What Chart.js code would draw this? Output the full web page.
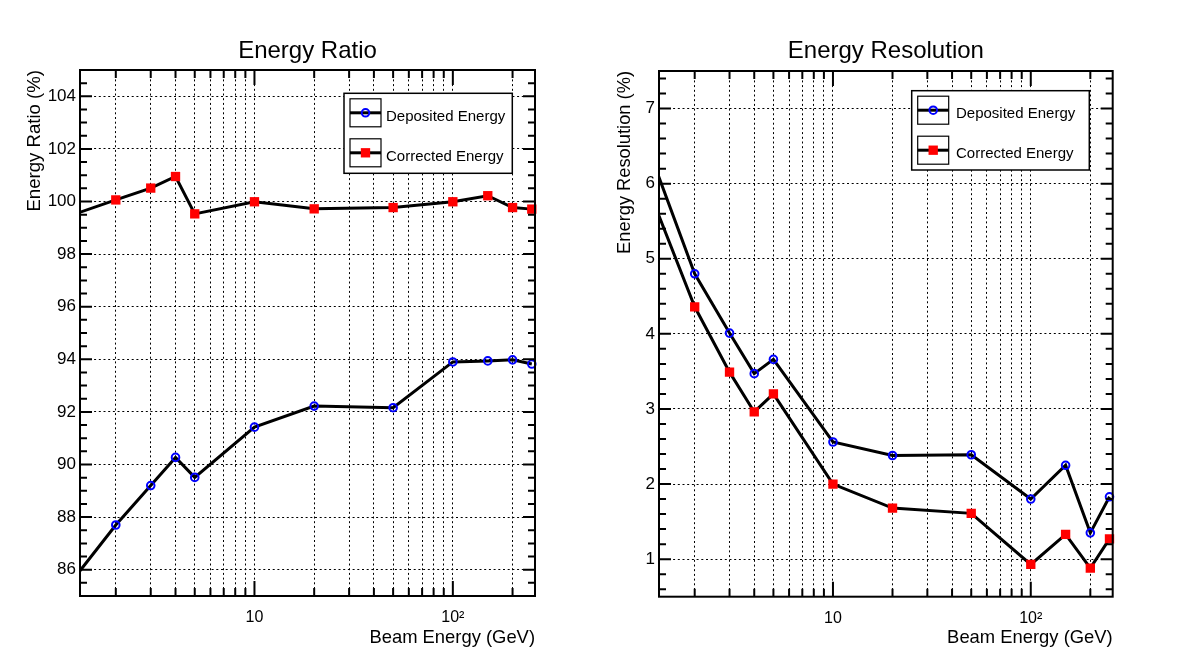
<!DOCTYPE html>
<html>
<head>
<meta charset="utf-8">
<script src="https://cdn.jsdelivr.net/npm/chart.js@4.4.1/dist/chart.umd.min.js"></script>
<style>
  html, body { margin: 0; padding: 0; background: #fff; }
  #wrap { display: flex; width: 1182px; height: 669px; }
  canvas { display: block; }
</style>
</head>
<body>
<div id="wrap">
  <canvas id="ratio" width="591" height="669"></canvas>
  <canvas id="resolution" width="591" height="669"></canvas>
</div>
<script>
// beam energies in GeV -- the 1 GeV point lies left of the shown range, only its line shows
const beamEnergy = [1, 2, 3, 4, 5, 10, 20, 50, 100, 150, 200, 250];

const ratioDeposited = [84.8, 87.7, 89.2, 90.27, 89.51, 91.42, 92.22, 92.16, 93.9, 93.94, 93.98, 93.82];
const ratioCorrected = [99.28, 100.06, 100.51, 100.95, 99.53, 99.99, 99.72, 99.77, 99.99, 100.22, 99.77, 99.71];

const resDeposited = [6.94, 4.8, 4.01, 3.47, 3.66, 2.56, 2.38, 2.39, 1.8, 2.25, 1.35, 1.83];
const resCorrected = [6.38, 4.36, 3.49, 2.96, 3.2, 2.0, 1.68, 1.61, 0.93, 1.33, 0.88, 1.27];

const xTicks = [2, 3, 4, 5, 6, 7, 8, 9, 10, 20, 30, 40, 50, 60, 70, 80, 90, 100, 200];
const xTickLabels = { 10: '10', 100: '10\u00B2' };
const ratioTicks = [86, 88, 90, 92, 94, 96, 98, 100, 102, 104];
const resTicks = [1, 2, 3, 4, 5, 6, 7];

const FONT = "'Liberation Sans', Arial, Helvetica, sans-serif";

// ROOT-like frame: box, inward ticks on all four sides, and the boxed legend
const rootFrame = {
  id: 'rootFrame',
  afterDatasetsDraw(chart, args, opts) {
    const { ctx, chartArea: a, scales: { x, y } } = chart;
    ctx.save();
    ctx.strokeStyle = '#000';
    ctx.lineWidth = 2;
    ctx.beginPath();
    xTicks.forEach(v => {
      const px = x.getPixelForValue(v);
      const len = xTickLabels[v] ? 15 : 8;
      ctx.moveTo(px, a.bottom); ctx.lineTo(px, a.bottom - len);
      ctx.moveTo(px, a.top); ctx.lineTo(px, a.top + len);
    });
    const k0 = Math.ceil(y.min / opts.minorStep - 1e-9);
    const k1 = Math.floor(y.max / opts.minorStep + 1e-9);
    for (let k = k0; k <= k1; k++) {
      const v = k * opts.minorStep;
      const r = v / opts.majorStep;
      const len = Math.abs(r - Math.round(r)) < 1e-6 ? 12 : 7;
      const py = y.getPixelForValue(v);
      ctx.moveTo(a.left, py); ctx.lineTo(a.left + len, py);
      ctx.moveTo(a.right, py); ctx.lineTo(a.right - len, py);
    }
    ctx.stroke();
    ctx.strokeRect(a.left, a.top, a.right - a.left, a.bottom - a.top);

    // legend
    const lg = opts.legend;
    const bx = a.right - lg.right - lg.width;
    const by = a.top + lg.top;
    ctx.fillStyle = '#fff';
    ctx.fillRect(bx, by, lg.width, lg.height);
    ctx.lineWidth = 1.5;
    ctx.strokeRect(bx, by, lg.width, lg.height);
    chart.data.datasets.forEach((ds, i) => {
      const sx = bx + 6, sy = by + 5.5 + i * 40, sw = 31, sh = 28;
      ctx.lineWidth = 1.2;
      ctx.strokeStyle = '#000';
      ctx.strokeRect(sx, sy, sw, sh);
      ctx.lineWidth = 3;
      ctx.beginPath();
      ctx.moveTo(sx, sy + sh / 2); ctx.lineTo(sx + sw, sy + sh / 2);
      ctx.stroke();
      ctx.fillStyle = ds.pointBackgroundColor;
      ctx.strokeStyle = ds.pointBorderColor;
      ctx.lineWidth = ds.pointBorderWidth;
      Chart.helpers.drawPoint(ctx, {
        pointStyle: ds.pointStyle, radius: ds.pointRadius,
        borderWidth: ds.pointBorderWidth, rotation: 0
      }, sx + sw / 2, sy + sh / 2);
      ctx.fillStyle = '#000';
      ctx.font = '15px ' + FONT;
      ctx.textBaseline = 'middle';
      ctx.textAlign = 'left';
      ctx.fillText(ds.label, bx + lg.textX, sy + sh / 2 + 4);
    });
    ctx.restore();
  }
};

function seriesDeposited(values) {
  return {
    label: 'Deposited Energy',
    data: beamEnergy.map((e, i) => ({ x: e, y: values[i] })),
    borderColor: '#000',
    borderWidth: 3,
    pointStyle: 'circle',
    pointRadius: 3.8,
    pointBorderWidth: 2,
    pointBorderColor: '#0000ff',
    pointBackgroundColor: 'rgba(0,0,0,0)',
    clip: { left: 0, right: 10, top: 10, bottom: 10 }
  };
}

function seriesCorrected(values) {
  return {
    label: 'Corrected Energy',
    data: beamEnergy.map((e, i) => ({ x: e, y: values[i] })),
    borderColor: '#000',
    borderWidth: 3,
    pointStyle: 'rect',
    pointRadius: 6.6,
    pointBorderWidth: 0,
    pointBorderColor: '#ff0000',
    pointBackgroundColor: '#ff0000',
    clip: { left: 0, right: 10, top: 10, bottom: 10 }
  };
}

function makeChart(id, cfg) {
  return new Chart(document.getElementById(id), {
    type: 'line',
    data: { datasets: [seriesDeposited(cfg.deposited), seriesCorrected(cfg.corrected)] },
    options: {
      responsive: false,
      animation: false,
      events: [],
      layout: { padding: { left: 0, right: cfg.padRight, top: 0, bottom: 0 } },
      plugins: {
        legend: { display: false },
        tooltip: { enabled: false },
        title: {
          display: true,
          text: cfg.title,
          fullSize: false,
          color: '#000',
          font: { family: FONT, size: 24, weight: 'normal' },
          padding: { top: 37.2, bottom: cfg.plotTop - 28.8 - 37.2 }
        },
        rootFrame: { minorStep: cfg.minorStep, majorStep: cfg.majorStep, legend: cfg.legend }
      },
      scales: {
        x: {
          type: 'logarithmic',
          min: 1.32,
          max: 259.5,
          afterBuildTicks: s => { s.ticks = xTicks.map(v => ({ value: v })); },
          afterFit: s => { s.height = cfg.xHeight; },
          grid: { color: '#000', lineWidth: 1, drawTicks: false },
          border: { display: false, dash: [2, 2.7] },
          ticks: {
            autoSkip: false, maxRotation: 0, padding: 12, color: '#000',
            font: { family: FONT, size: 16 },
            callback: v => xTickLabels[v] || ''
          },
          title: {
            display: true, text: 'Beam Energy (GeV)', align: 'end', color: '#000',
            font: { family: FONT, size: 18.4 },
            padding: { top: 0, bottom: 20 }
          }
        },
        y: {
          type: 'linear',
          min: cfg.yMin,
          max: cfg.yMax,
          afterBuildTicks: s => { s.ticks = cfg.yTicks.map(v => ({ value: v })); },
          afterFit: s => { s.width = cfg.yWidth; },
          grid: { color: '#000', lineWidth: 1, drawTicks: false },
          border: { display: false, dash: [2, 2.7] },
          ticks: { padding: 4, color: '#000', font: { family: FONT, size: 17 } },
          title: {
            display: true, text: cfg.yTitle, align: 'end', color: '#000',
            font: { family: FONT, size: cfg.yTitleSize },
            padding: { top: cfg.yTitlePad, bottom: 0 }
          }
        }
      }
    },
    plugins: [rootFrame]
  });
}

makeChart('ratio', {
  title: 'Energy Ratio',
  yTitle: 'Energy Ratio (%)',
  deposited: ratioDeposited,
  corrected: ratioCorrected,
  yMin: 85, yMax: 105, yTicks: ratioTicks,
  minorStep: 0.5, majorStep: 2,
  yWidth: 80, padRight: 56, plotTop: 70, xHeight: 73,
  yTitleSize: 18.6, yTitlePad: 23.8,
  legend: { right: 22.7, top: 23.3, width: 168.3, height: 80, textX: 42 }
});

makeChart('resolution', {
  title: 'Energy Resolution',
  yTitle: 'Energy Resolution (%)',
  deposited: resDeposited,
  corrected: resCorrected,
  yMin: 0.5, yMax: 7.5, yTicks: resTicks,
  minorStep: 0.2, majorStep: 1,
  yWidth: 68, padRight: 69.3, plotTop: 71, xHeight: 72.3,
  yTitleSize: 18.3, yTitlePad: 22.9,
  legend: { right: 23.4, top: 19.7, width: 177.6, height: 79.3, textX: 44.3 }
});
</script>
</body>
</html>
